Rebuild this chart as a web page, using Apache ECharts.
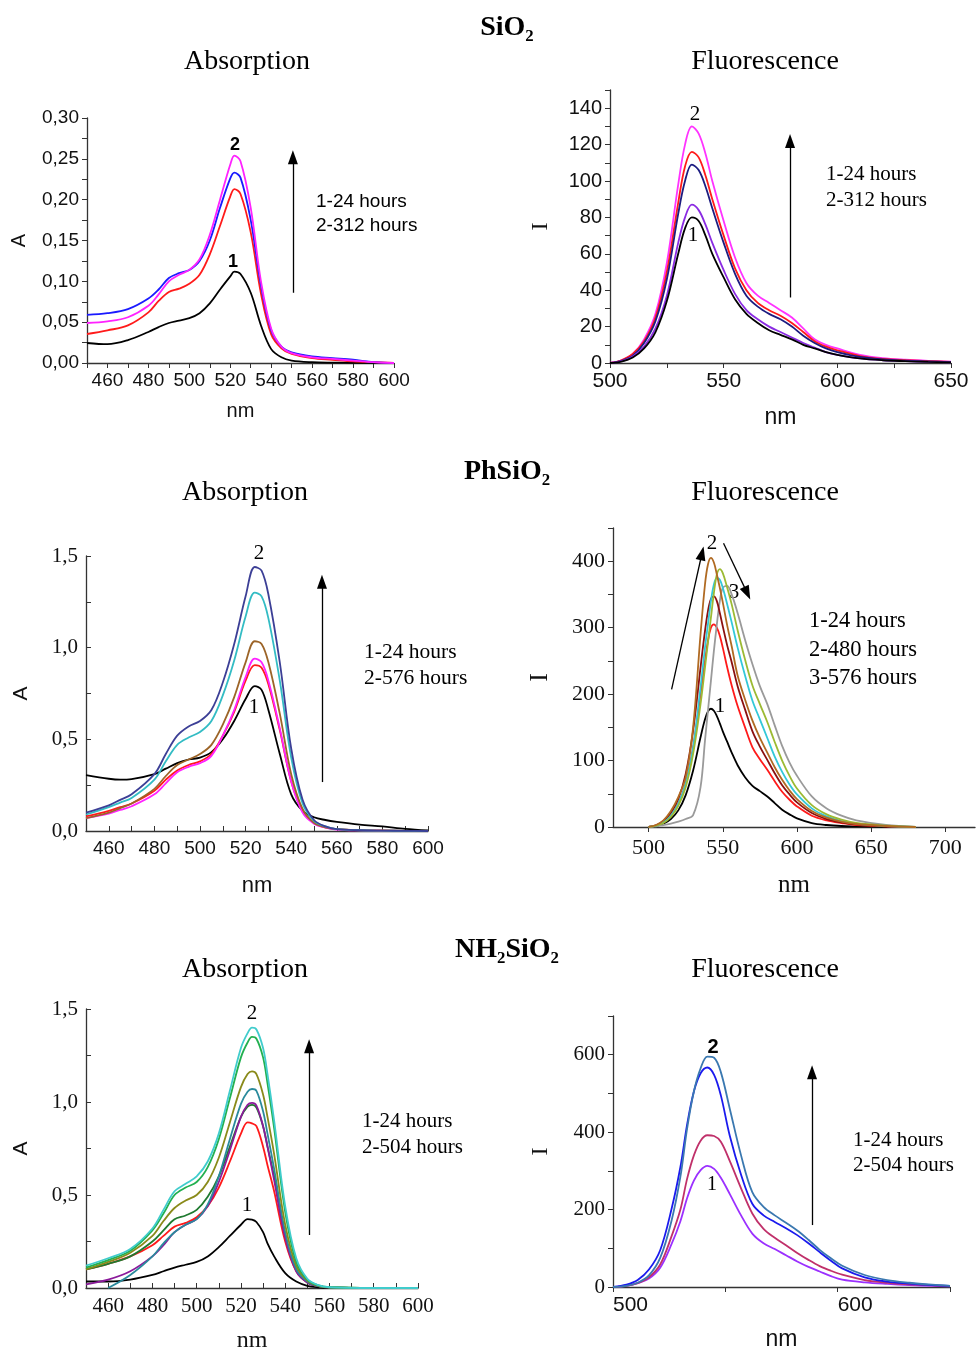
<!DOCTYPE html>
<html>
<head>
<meta charset="utf-8">
<script src="https://cdn.jsdelivr.net/npm/echarts@6/dist/echarts.min.js"></script>
<style>
  html, body { margin: 0; padding: 0; background: #fff; }
  #chart { width: 977px; height: 1351px; }
</style>
</head>
<body>
<div id="chart"></div>
<script>
// ---- SiO2 absorption ----
const sioAbsX = [450,460,470,480,485,490,495,500,505,510,515,520,522,525,530,535,540,545,550,560,570,580,590,600]
const sioAbsBlack = [0.0245,0.023,0.028,0.038,0.044,0.049,0.052,0.055,0.061,0.073,0.09,0.106,0.112,0.109,0.086,0.046,0.017,0.007,0.003,0.001,0.0005,0.0003,0.0001,0]
const sioAbsRed = [0.0355,0.04,0.046,0.062,0.076,0.087,0.091,0.097,0.108,0.133,0.168,0.204,0.213,0.207,0.16,0.085,0.035,0.018,0.011,0.006,0.004,0.002,0.001,0]
const sioAbsBlue = [0.059,0.061,0.066,0.079,0.09,0.104,0.11,0.114,0.125,0.15,0.19,0.226,0.233,0.227,0.175,0.095,0.04,0.02,0.013,0.008,0.006,0.004,0.001,0]
const sioAbsMagenta = [0.049,0.051,0.056,0.07,0.084,0.1,0.108,0.114,0.127,0.157,0.2,0.243,0.254,0.247,0.19,0.1,0.042,0.02,0.012,0.007,0.005,0.003,0.001,0]

// ---- SiO2 fluorescence ----
const sioFlX = [500,505,510,515,520,525,530,533,536,539,542,545,550,555,560,565,570,575,580,585,590,595,600,610,620,630,640,650]
const sioFlBlack = [0,0.8,3,8,17,34,60,74,80,78,70,60,47,35,27,22,18,15.5,13,10,8,6,4.5,2.5,1.5,1,0.6,0.3]
const sioFlViolet = [0,1,3.5,9,19,37,66,80,87,84,76,66,51,38,29,24,20,17,14,11,8.5,6,4.5,2.5,1.5,1,0.6,0.3]
const sioFlNavy = [0,1.2,4,11,23,46,82,100,109,106,97,85,66,49,37,31,27,24,20,15,11,8,6,3.3,2,1.3,0.9,0.5]
const sioFlRed = [0,1.5,5,12,25,50,88,108,116,113,103,90,70,52,40,33,29,26,22,17,12,9,7,3.8,2.2,1.5,1,0.6]
const sioFlMagenta = [0,1.5,5,13,27,55,98,120,130,126,115,100,78,58,44,37,33,29,25,19,13,10,8,4.5,2.7,1.8,1.2,0.8]

// ---- PhSiO2 absorption ----
const phAbsX = [450,460,465,470,480,485,490,495,500,505,510,515,520,524,527,530,535,540,545,550,555,560,570,580,590,600]
const phAbsBlack = [0.305,0.285,0.28,0.283,0.31,0.34,0.37,0.39,0.4,0.43,0.5,0.6,0.72,0.79,0.77,0.66,0.42,0.2,0.11,0.075,0.06,0.05,0.035,0.025,0.012,0.003]
const phAbsRed = [0.08,0.11,0.13,0.15,0.22,0.28,0.33,0.36,0.38,0.42,0.52,0.65,0.82,0.905,0.89,0.8,0.55,0.27,0.11,0.045,0.02,0.01,0.005,0.003,0.001,0]
const phAbsMagenta = [0.07,0.095,0.115,0.135,0.2,0.26,0.32,0.35,0.37,0.41,0.52,0.66,0.84,0.94,0.92,0.82,0.56,0.27,0.1,0.04,0.018,0.008,0.003,0.001,0,0]
const phAbsBrown = [0.07,0.1,0.125,0.15,0.23,0.3,0.36,0.39,0.42,0.47,0.58,0.73,0.92,1.035,1.02,0.92,0.64,0.31,0.12,0.045,0.02,0.01,0.004,0.002,0.001,0]
const phAbsCyan = [0.09,0.13,0.155,0.18,0.28,0.38,0.47,0.51,0.54,0.6,0.74,0.93,1.17,1.3,1.28,1.16,0.82,0.4,0.15,0.055,0.025,0.01,0.004,0.002,0.001,0]
const phAbsNavy = [0.1,0.14,0.17,0.2,0.31,0.42,0.52,0.57,0.6,0.66,0.81,1.02,1.28,1.44,1.42,1.29,0.92,0.45,0.17,0.06,0.025,0.01,0.004,0.002,0.001,0]

// ---- PhSiO2 fluorescence ----
const phFlX = [500,505,510,515,520,525,530,535,538,540,542,544,546,548,550,553,556,560,565,570,575,580,585,590,595,600,610,620,630,640,660,680]
const phFlBlack = [0,1.5,5,12,25,48,85,135,162,174,178,175,167,156,144,128,112,93,75,62,54,46,36,26,19,13,6,3,1.5,1,0.3,0]
const phFlRed = [0,2,7,17,35,65,120,200,250,280,300,305,300,288,270,240,213,182,150,120,102,86,69,53,41,31,17,10,6,3,1,0]
const phFlMaroon = [0,2.5,9,21,42,80,145,240,295,325,343,347,340,322,302,273,248,212,177,144,121,101,81,63,49,37,21,12,7,4,1,0]
const phFlBrown = [0,3,10,24,45,75,150,290,365,395,405,398,380,360,338,303,272,228,192,160,134,112,90,71,55,42,24,14,8,4.5,1.5,0]
const phFlCyan = [0,2,7,17,35,65,120,210,270,305,340,365,375,372,360,335,308,270,228,190,162,134,106,83,64,49,28,16,9,5,1.5,0]
const phFlGreen = [0,2,6,15,32,60,110,185,240,278,315,352,380,388,382,360,335,296,252,213,185,158,128,100,77,58,33,19,11,6,2,0]
const phFlGray = [0,1,3,5,8,12,18,60,130,175,220,265,305,340,360,363,350,322,282,245,212,185,153,122,97,77,46,28,17,10,3,0]

// ---- NH2SiO2 absorption ----
const nhAbsX = [450,460,470,480,485,490,495,500,505,510,515,520,523,525,527,530,532,535,540,545,550,555,560,580,600]
const nhAbsBlack = [0.035,0.035,0.045,0.07,0.09,0.11,0.125,0.14,0.17,0.22,0.28,0.34,0.37,0.368,0.355,0.3,0.24,0.17,0.08,0.035,0.012,0.004,0.001,0,0]
const nhAbsRed = [0.1,0.13,0.17,0.23,0.28,0.33,0.35,0.38,0.44,0.54,0.68,0.83,0.89,0.885,0.87,0.76,0.66,0.52,0.25,0.09,0.03,0.01,0.003,0,0]
const nhAbsPurple = [0.02,0.045,0.09,0.17,0.23,0.3,0.34,0.37,0.44,0.57,0.74,0.92,0.985,0.995,0.98,0.87,0.76,0.58,0.27,0.09,0.03,0.01,0.003,0,0]
const nhAbsDkGreen = [0.1,0.13,0.17,0.25,0.31,0.37,0.39,0.42,0.49,0.6,0.76,0.92,0.975,0.985,0.97,0.87,0.76,0.6,0.28,0.1,0.03,0.01,0.003,0,0]
const nhAbsTeal = [null,0,0.07,0.17,0.24,0.3,0.34,0.37,0.45,0.6,0.8,0.99,1.055,1.07,1.06,0.95,0.83,0.64,0.3,0.1,0.035,0.01,0.003,0,0]
const nhAbsOlive = [0.1,0.14,0.19,0.28,0.36,0.43,0.47,0.5,0.57,0.7,0.89,1.08,1.15,1.165,1.15,1.04,0.92,0.72,0.34,0.12,0.04,0.012,0.004,0,0]
const nhAbsGreen = [0.11,0.15,0.2,0.31,0.4,0.5,0.54,0.57,0.65,0.8,1.02,1.24,1.32,1.35,1.34,1.24,1.1,0.86,0.41,0.14,0.045,0.014,0.004,0,0]
const nhAbsCyan = [0.12,0.16,0.21,0.32,0.42,0.52,0.56,0.6,0.68,0.83,1.06,1.29,1.37,1.4,1.39,1.29,1.15,0.9,0.44,0.16,0.05,0.015,0.004,0,0]

// ---- NH2SiO2 fluorescence ----
const nhFlX = [500,506,511,516,521,526,530,533,536,539,542,545,548,552,557,562,567,572,577,582,587,592,597,602,612,622,632,642,650]
const nhFlViolet = [0,3,10,22,50,110,170,230,275,302,313,305,282,240,185,138,113,98,82,66,52,40,28,19,12,8,5,3,1.5]
const nhFlCrimson = [0,3,10,25,58,130,200,280,340,378,392,390,375,325,255,190,150,127,108,88,70,54,42,32,18,11,7,4,2]
const nhFlBlue = [0,6,18,45,95,200,310,420,505,552,567,548,495,390,290,215,185,168,152,134,113,90,68,48,25,14,9,5,3]
const nhFlSteel = [0,3,11,30,75,170,285,410,505,565,595,592,555,460,340,245,207,185,166,146,122,96,74,55,31,18,11,6,3]

const SANS = 'Liberation Sans, Arial, sans-serif'
const SERIF = 'Liberation Serif, Times New Roman, serif'

const pts = (xs, ys) => xs.map((x, i) => [x, ys[i]])

function line(idx, xs, ys, color, extra) {
  return Object.assign({
    type: 'line', xAxisIndex: idx, yAxisIndex: idx,
    data: pts(xs, ys), showSymbol: false, smooth: 0.35,
    lineStyle: { color, width: 1.8 }, itemStyle: { color },
    animation: false, silent: true,
  }, extra || {})
}

// arrows are drawn as mark lines in data coordinates
function arrow(coords) {
  return {
    silent: true, animation: false,
    symbol: ['none', 'triangle'], symbolSize: [10, 14],
    label: { show: false },
    lineStyle: { color: '#000', type: 'solid', width: 1.3 },
    itemStyle: { color: '#000' },
    emphasis: { disabled: true },
    data: coords.map(c => [{ coord: c[0] }, { coord: c[1] }]),
  }
}

function xAxis(idx, o) {
  return {
    gridIndex: idx, type: 'value', min: o.min, max: o.max, interval: o.interval,
    axisLine: { show: true, lineStyle: { color: '#333', width: 1.3 } },
    axisTick: { show: true, inside: !!o.inside, length: 5, lineStyle: { color: '#333' }, customValues: o.tickValues },
    splitLine: { show: false },
    axisLabel: {
      color: '#111', fontFamily: o.font, fontSize: o.size, margin: o.margin || 8,
      formatter: o.fmt, customValues: o.labelValues, align: o.align,
    },
    name: 'nm', nameLocation: 'middle', nameGap: o.nameGap,
    nameTextStyle: { color: '#111', fontFamily: o.nameFont, fontSize: o.nameSize },
  }
}

function yAxis(idx, o) {
  return {
    gridIndex: idx, type: 'value', min: o.min, max: o.max, interval: o.interval,
    axisLine: { show: true, lineStyle: { color: '#333', width: 1.3 } },
    axisTick: { show: true, inside: !!o.inside, length: 5, lineStyle: { color: '#333' } },
    splitLine: { show: false },
    axisLabel: { color: '#111', fontFamily: o.font, fontSize: o.size, formatter: o.fmt, margin: o.margin || 8 },
    name: o.name, nameLocation: 'middle', nameGap: o.nameGap, nameRotate: 90,
    nameTextStyle: { color: '#111', fontFamily: o.nameFont, fontSize: o.nameSize },
  }
}

const every = (step, fmt) => v => (Math.abs(v / step - Math.round(v / step)) < 1e-6 ? fmt(v) : '')
const comma = d => v => v.toFixed(d).replace('.', ',')

const grids = [
  { left: 87, top: 118, width: 307, height: 245 },
  { left: 610, top: 90, width: 341, height: 273 },
  { left: 86, top: 556, width: 342, height: 275 },
  { left: 613, top: 528, width: 362, height: 299 },
  { left: 86, top: 1009, width: 332, height: 279 },
  { left: 613, top: 1016, width: 337, height: 271 },
].map(g => Object.assign({ outerBoundsMode: 'none', containLabel: false }, g))

const xAxes = [
  xAxis(0, { min: 450, max: 600, interval: 10, font: SANS, size: 19, fmt: v => (v > 450 && v % 20 === 0 ? v : ''), nameGap: 38, nameFont: SANS, nameSize: 20 }),
  xAxis(1, { min: 500, max: 650, interval: 25, font: SANS, size: 21, fmt: every(50, v => v), nameGap: 43, nameFont: SANS, nameSize: 23 }),
  xAxis(2, { min: 450, max: 600, interval: 10, inside: true, font: SANS, size: 19, fmt: v => (v > 450 && v % 20 === 0 ? v : ''), nameGap: 44, nameFont: SANS, nameSize: 22 }),
  xAxis(3, { min: 476, max: 720, font: SERIF, size: 22, tickValues: [500,550,600,650,700], labelValues: [500,550,600,650,700], nameGap: 46, nameFont: SERIF, nameSize: 25, margin: 10 }),
  xAxis(4, { min: 450, max: 600, interval: 10, inside: true, font: SERIF, size: 21, fmt: v => (v > 450 && v % 20 === 0 ? v : ''), nameGap: 41, nameFont: SERIF, nameSize: 24 }),
  xAxis(5, { min: 500, max: 650, interval: 50, font: SANS, size: 21, align: 'left', fmt: v => (v === 500 || v === 600 ? v : ''), nameGap: 41, nameFont: SANS, nameSize: 23 }),
]

const yAxes = [
  yAxis(0, { min: 0, max: 0.3, interval: 0.025, font: SANS, size: 19, fmt: every(0.05, comma(2)), name: 'A', nameGap: 58, nameFont: SANS, nameSize: 20 }),
  yAxis(1, { min: 0, max: 150, interval: 10, font: SANS, size: 20, fmt: v => (v % 20 === 0 && v <= 140 ? v : ''), name: 'I', nameGap: 57, nameFont: SERIF, nameSize: 24 }),
  yAxis(2, { min: 0, max: 1.5, interval: 0.25, inside: true, font: SERIF, size: 21, fmt: every(0.5, comma(1)), name: 'A', nameGap: 54, nameFont: SANS, nameSize: 21 }),
  yAxis(3, { min: 0, max: 450, interval: 50, font: SERIF, size: 22, fmt: v => (v % 100 === 0 ? v : ''), name: 'I', nameGap: 60, nameFont: SERIF, nameSize: 26 }),
  yAxis(4, { min: 0, max: 1.5, interval: 0.25, inside: true, font: SERIF, size: 21, fmt: every(0.5, comma(1)), name: 'A', nameGap: 54, nameFont: SANS, nameSize: 21 }),
  yAxis(5, { min: 0, max: 700, interval: 100, font: SERIF, size: 21, fmt: v => (v % 200 === 0 && v < 700 ? v : ''), name: 'I', nameGap: 60, nameFont: SERIF, nameSize: 24 }),
]

const series = [
  line(0, sioAbsX, sioAbsBlack, '#000000', { markLine: arrow([[[550.6, 0.086], [550.6, 0.252]]]) }),
  line(0, sioAbsX, sioAbsRed, '#ff1a1a'),
  line(0, sioAbsX, sioAbsBlue, '#1a1aff'),
  line(0, sioAbsX, sioAbsMagenta, '#ff22ff'),

  line(1, sioFlX, sioFlMagenta, '#ff33ff', { markLine: arrow([[[579.2, 36], [579.2, 122]]]) }),
  line(1, sioFlX, sioFlRed, '#ff1a1a'),
  line(1, sioFlX, sioFlNavy, '#1c1c80'),
  line(1, sioFlX, sioFlViolet, '#8a2be2'),
  line(1, sioFlX, sioFlBlack, '#000000'),

  line(2, phAbsX, phAbsBlack, '#000000', { markLine: arrow([[[553.5, 0.267], [553.5, 1.36]]]) }),
  line(2, phAbsX, phAbsRed, '#ff1a1a'),
  line(2, phAbsX, phAbsMagenta, '#ff22ff'),
  line(2, phAbsX, phAbsBrown, '#9c6428'),
  line(2, phAbsX, phAbsCyan, '#33bcc4'),
  line(2, phAbsX, phAbsNavy, '#3c3f96'),

  line(3, phFlX, phFlBlack, '#000000', { markLine: arrow([[[515.5, 207], [536, 412]], [[550.5, 427], [566.5, 352]]]) }),
  line(3, phFlX, phFlRed, '#ff1a1a'),
  line(3, phFlX, phFlGray, '#9a9a9a'),
  line(3, phFlX, phFlMaroon, '#8b1010'),
  line(3, phFlX, phFlCyan, '#33c8d8'),
  line(3, phFlX, phFlGreen, '#9cba33'),
  line(3, phFlX, phFlBrown, '#b06a22'),

  line(4, nhAbsX, nhAbsBlack, '#000000', { markLine: arrow([[[550.8, 0.285], [550.8, 1.3]]]) }),
  line(4, nhAbsX, nhAbsRed, '#ff1a1a'),
  line(4, nhAbsX, nhAbsDkGreen, '#1f7a30'),
  line(4, nhAbsX, nhAbsPurple, '#8b1a9b'),
  line(4, nhAbsX, nhAbsTeal, '#2a8a9c'),
  line(4, nhAbsX, nhAbsOlive, '#8a8a1a'),
  line(4, nhAbsX, nhAbsGreen, '#22b050'),
  line(4, nhAbsX, nhAbsCyan, '#40cccc'),

  line(5, nhFlX, nhFlViolet, '#9b30ff', { markLine: arrow([[[588.6, 160], [588.6, 555]]]) }),
  line(5, nhFlX, nhFlCrimson, '#c0306a'),
  line(5, nhFlX, nhFlBlue, '#1a1aee'),
  line(5, nhFlX, nhFlSteel, '#3a78b0'),
]

function txt(text, x, y, font, align) {
  return {
    type: 'text', x, y, silent: true,
    style: { text, font, fill: '#000', textAlign: align || 'center', textVerticalAlign: 'middle' },
  }
}

const graphic = [
  txt('SiO₂', 507, 28, `bold 28px ${SERIF}`),
  txt('Absorption', 247, 62, `28px ${SERIF}`),
  txt('Fluorescence', 765, 62, `28px ${SERIF}`),
  txt('PhSiO₂', 507, 472, `bold 28px ${SERIF}`),
  txt('Absorption', 245, 493, `28px ${SERIF}`),
  txt('Fluorescence', 765, 493, `28px ${SERIF}`),
  txt('NH₂SiO₂', 507, 950, `bold 28px ${SERIF}`),
  txt('Absorption', 245, 970, `28px ${SERIF}`),
  txt('Fluorescence', 765, 970, `28px ${SERIF}`),

  txt('2', 235, 145, `bold 18px ${SANS}`),
  txt('1', 233, 262, `bold 18px ${SANS}`),
  txt('1-24 hours', 316, 202, `19px ${SANS}`, 'left'),
  txt('2-312 hours', 316, 226, `19px ${SANS}`, 'left'),

  txt('2', 695, 114, `21px ${SERIF}`),
  txt('1', 693, 235, `21px ${SERIF}`),
  txt('1-24 hours', 826, 174, `21px ${SERIF}`, 'left'),
  txt('2-312 hours', 826, 200, `21px ${SERIF}`, 'left'),

  txt('2', 259, 553, `21px ${SERIF}`),
  txt('1', 254, 707, `21px ${SERIF}`),
  txt('1-24 hours', 364, 652, `21.5px ${SERIF}`, 'left'),
  txt('2-576 hours', 364, 678, `21.5px ${SERIF}`, 'left'),

  txt('2', 712, 543, `21px ${SERIF}`),
  txt('3', 734, 592, `21px ${SERIF}`),
  txt('1', 720, 706, `21px ${SERIF}`),
  txt('1-24 hours', 809, 621, `22.5px ${SERIF}`, 'left'),
  txt('2-480 hours', 809, 650, `22.5px ${SERIF}`, 'left'),
  txt('3-576 hours', 809, 678, `22.5px ${SERIF}`, 'left'),

  txt('2', 252, 1013, `21px ${SERIF}`),
  txt('1', 247, 1205, `21px ${SERIF}`),
  txt('1-24 hours', 362, 1121, `21px ${SERIF}`, 'left'),
  txt('2-504 hours', 362, 1147, `21px ${SERIF}`, 'left'),

  txt('2', 713, 1047, `bold 20px ${SANS}`),
  txt('1', 712, 1185, `20px ${SERIF}`),
  txt('1-24 hours', 853, 1140, `21px ${SERIF}`, 'left'),
  txt('2-504 hours', 853, 1165, `21px ${SERIF}`, 'left'),
]

const chart = echarts.init(document.getElementById('chart'), null, { renderer: 'canvas' })
chart.setOption({
  backgroundColor: '#fff',
  animation: false,
  grid: grids,
  xAxis: xAxes,
  yAxis: yAxes,
  series,
  graphic,
})
</script>
</body>
</html>
